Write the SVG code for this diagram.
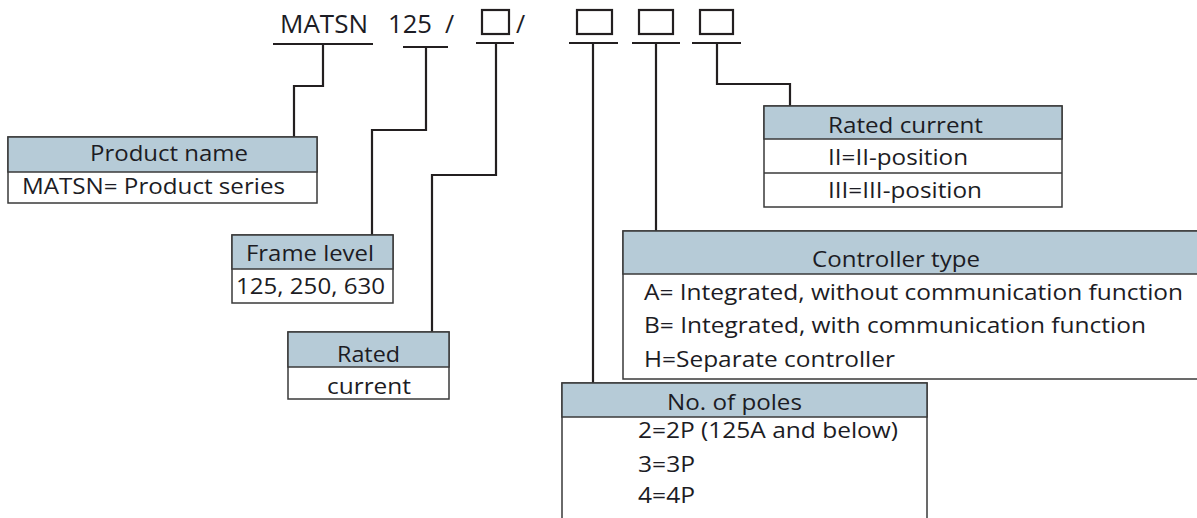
<svg xmlns="http://www.w3.org/2000/svg" width="1197" height="518" viewBox="0 0 1197 518">
<style>
text{font-family:"Open Sans","Noto Sans","Liberation Sans",sans-serif;font-size:22px;fill:#1c1c24}
.top{font-size:25px}
.hd{fill:#b6cbd7;stroke:#3a3a3a;stroke-width:1.5}
.bd{fill:#fff;stroke:#3a3a3a;stroke-width:1.5}
.ln{fill:none;stroke:#231f20;stroke-width:2.2}
.sq{fill:none;stroke:#231f20;stroke-width:2.2}
</style>
<rect width="1197" height="518" fill="#fff"/>
<g id="code">
<text class="top" x="280" y="33" textLength="88" lengthAdjust="spacingAndGlyphs">MATSN</text>
<text class="top" x="388" y="33" textLength="44" lengthAdjust="spacingAndGlyphs">125</text>
<text class="top" x="445" y="33">/</text>
<rect class="sq" x="482" y="10" width="27" height="24"/>
<text class="top" x="516" y="33">/</text>
<rect class="sq" x="577" y="10" width="35" height="24"/>
<rect class="sq" x="639" y="10" width="34" height="24"/>
<rect class="sq" x="700" y="10" width="33" height="24"/>
</g>
<g id="connectors" class="ln">
<path d="M273 44H373M323 44V86H294V138"/>
<path d="M403 47H448M426 47V130H372V236"/>
<path d="M476 43H514M496 43V175H432V333"/>
<path d="M569 43H618M593 43V384"/>
<path d="M632 43H680M656 43V232"/>
<path d="M692 43H741M717 43V84H790V107"/>
</g>
<g id="product-name">
<rect class="bd" x="8" y="137" width="309" height="66"/>
<rect class="hd" x="8" y="137" width="309" height="35"/>
<text x="90" y="161" textLength="158" lengthAdjust="spacingAndGlyphs">Product name</text>
<text x="22" y="194" textLength="263" lengthAdjust="spacingAndGlyphs">MATSN= Product series</text>
</g>
<g id="frame-level">
<rect class="bd" x="232" y="235" width="161" height="68"/>
<rect class="hd" x="232" y="235" width="161" height="34"/>
<text x="246" y="261" textLength="128" lengthAdjust="spacingAndGlyphs">Frame level</text>
<text x="236" y="294" textLength="149" lengthAdjust="spacingAndGlyphs">125, 250, 630</text>
</g>
<g id="rated">
<rect class="bd" x="288" y="332" width="161" height="67"/>
<rect class="hd" x="288" y="332" width="161" height="35"/>
<text x="337" y="362" textLength="63" lengthAdjust="spacingAndGlyphs">Rated</text>
<text x="327" y="394" textLength="84" lengthAdjust="spacingAndGlyphs">current</text>
</g>
<g id="rated-current">
<rect class="bd" x="764" y="106" width="298" height="101"/>
<rect class="hd" x="764" y="106" width="298" height="33"/>
<line x1="764" y1="173" x2="1062" y2="173" stroke="#3a3a3a" stroke-width="1.5"/>
<text x="828" y="133" textLength="155" lengthAdjust="spacingAndGlyphs">Rated current</text>
<text x="828" y="165" textLength="140" lengthAdjust="spacingAndGlyphs">II=II-position</text>
<text x="828" y="198" textLength="154" lengthAdjust="spacingAndGlyphs">III=III-position</text>
</g>
<g id="controller-type">
<rect class="bd" x="623" y="231" width="590" height="148"/>
<rect class="hd" x="623" y="231" width="590" height="43"/>
<text x="812" y="267" textLength="168" lengthAdjust="spacingAndGlyphs">Controller type</text>
<text x="644" y="300" textLength="539" lengthAdjust="spacingAndGlyphs">A= Integrated, without communication function</text>
<text x="644" y="333" textLength="502" lengthAdjust="spacingAndGlyphs">B= Integrated, with communication function</text>
<text x="644" y="367" textLength="251" lengthAdjust="spacingAndGlyphs">H=Separate controller</text>
</g>
<g id="poles">
<rect class="bd" x="562" y="383" width="365" height="150"/>
<rect class="hd" x="562" y="383" width="365" height="34"/>
<text x="667" y="410" textLength="135" lengthAdjust="spacingAndGlyphs">No. of poles</text>
<text x="638" y="438" textLength="260" lengthAdjust="spacingAndGlyphs">2=2P (125A and below)</text>
<text x="638" y="472" textLength="57" lengthAdjust="spacingAndGlyphs">3=3P</text>
<text x="638" y="503" textLength="57" lengthAdjust="spacingAndGlyphs">4=4P</text>
</g>
</svg>
